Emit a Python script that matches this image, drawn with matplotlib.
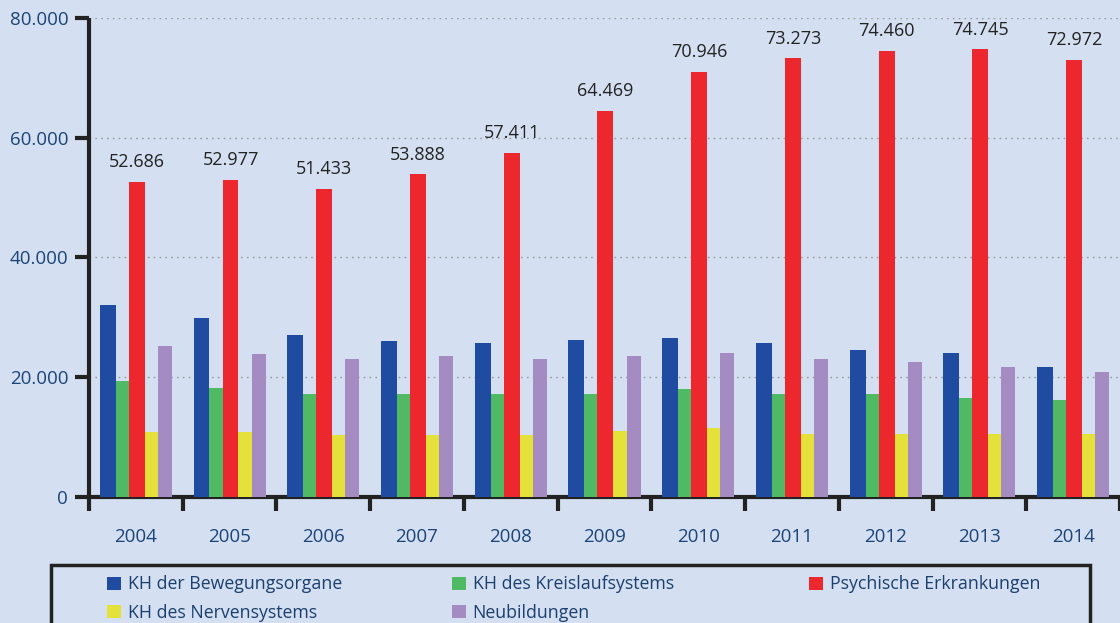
import matplotlib
matplotlib.use("Agg")
import matplotlib.pyplot as plt
from matplotlib.patches import Rectangle, Patch
from matplotlib.ticker import FuncFormatter, FixedLocator
import numpy as np

years = ["2004", "2005", "2006", "2007", "2008", "2009", "2010", "2011", "2012", "2013", "2014"]
series_names = ["KH der Bewegungsorgane", "KH des Kreislaufsystems", "Psychische Erkrankungen",
                "KH des Nervensystems", "Neubildungen"]
bewegung = [32000, 29900, 27000, 26000, 25700, 26200, 26500, 25700, 24500, 24000, 21700]
kreislauf = [19400, 18200, 17200, 17200, 17200, 17200, 18000, 17200, 17200, 16500, 16200]
psychisch = [52686, 52977, 51433, 53888, 57411, 64469, 70946, 73273, 74460, 74745, 72972]
nerven = [10850, 10850, 10300, 10300, 10300, 11000, 11500, 10600, 10600, 10600, 10600]
neubildung = [25200, 23900, 23000, 23500, 23000, 23500, 24000, 23000, 22500, 21700, 20900]
yticks = [0, 20000, 40000, 60000, 80000]

values = [bewegung, kreislauf, psychisch, nerven, neubildung]
colors = ["#1f4ba0", "#50b964", "#ec272d", "#e4e23a", "#a48bc2"]
widths = [0.17, 0.14, 0.17, 0.14, 0.15]

bg = "#d4e0f1"
tick_col = "#1b4478"
plt.rcParams["font.family"] = ["Open Sans", "DejaVu Sans"]

fig = plt.figure(figsize=(11.2, 6.23), dpi=100, facecolor=bg)
ax = fig.add_axes([89 / 1120, 1 - 497 / 623, 1 - 89 / 1120, (497 - 18) / 623])
ax.set_facecolor(bg)

x = np.arange(len(years))
total = sum(widths)
start = -total / 2
for vals, c, w in zip(values, colors, widths):
    ax.bar(x + start + w / 2, vals, width=w, color=c, zorder=3, linewidth=0)
    start += w

for xi, v in zip(x, psychisch):
    lbl = f"{v:,}".replace(",", ".")
    ax.text(xi + (-total / 2 + widths[0] + widths[1] + widths[2] / 2), v + 3300, lbl,
            ha="center", va="center", fontsize=13, color="#222222", zorder=4)

ax.set_xlim(-0.5, len(years) - 0.5)
ax.set_ylim(0, 80000)

ax.yaxis.set_major_locator(FixedLocator(yticks))
ax.yaxis.set_major_formatter(FuncFormatter(lambda v, p: f"{int(v):,}".replace(",", ".")))
ax.tick_params(axis="y", length=10, width=3, color="#222222", labelsize=13.5,
               labelcolor=tick_col, pad=5)
ax.grid(axis="y", linestyle=(0, (1.2, 3)), color="#9a9a9a", linewidth=1, zorder=0)

ax.set_xticks(np.arange(-0.5, len(years), 1.0))
ax.set_xticklabels([])
ax.set_xticks(x, minor=True)
ax.set_xticklabels(years, minor=True)
ax.tick_params(axis="x", which="major", length=10, width=3, color="#222222")
ax.tick_params(axis="x", which="minor", length=0, labelsize=13.5, labelcolor=tick_col, pad=22)

for s in ["top", "right"]:
    ax.spines[s].set_visible(False)
for s in ["left", "bottom"]:
    ax.spines[s].set_linewidth(3)
    ax.spines[s].set_color("#222222")
ax.spines["left"].set_capstyle("butt")

# legend frame
fig.patches.append(Rectangle((51 / 1120, -0.05), (1090 - 51) / 1120, 1.05 - 565 / 623,
                             transform=fig.transFigure, facecolor="none",
                             edgecolor="#222222", linewidth=2.5, zorder=5))

handles = [Patch(facecolor=c, edgecolor="none") for c in colors]
cols = [[0, 3], [1, 4], [2]]
col_x = [95, 440, 797]
for idxs, cx in zip(cols, col_x):
    fig.legend([handles[i] for i in idxs], [series_names[i] for i in idxs],
               loc="upper left", bbox_to_anchor=(cx / 1120, 1 - 563 / 623),
               frameon=False, fontsize=12.8, labelcolor="#1b3f6e",
               handlelength=0.78, handleheight=0.75, handletextpad=0.35,
               labelspacing=0.57, borderpad=0.2)

fig.savefig("out.png", dpi=100, facecolor=bg)
